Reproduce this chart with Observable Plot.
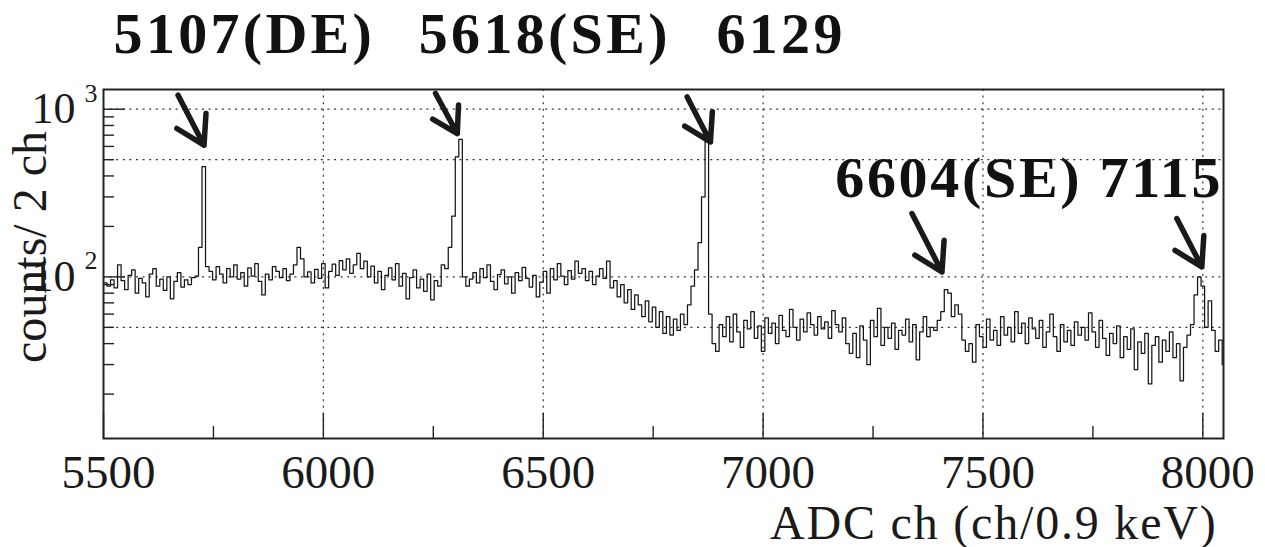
<!DOCTYPE html>
<html>
<head>
<meta charset="utf-8">
<script src="https://cdn.jsdelivr.net/npm/d3@7"></script>
<script src="https://cdn.jsdelivr.net/npm/@observablehq/plot@0.6"></script>
<style>
  html, body { margin: 0; padding: 0; background: #fff; }
  #chart svg { display: block; }
</style>
</head>
<body>
<div id="chart"></div>
<script>
// ---- Spectrum: counts per 8-ch bin starting at 5500 ----
const binStart = 5500;
const binWidth = 8;
const counts = [
  92, 88, 96, 86, 118, 95, 84, 102, 110, 80, 98, 92, 76, 104, 112, 88, 97, 83, 100, 74, 94, 106, 87, 96, 90, 99, 101,
  150, 455, 115,
  108, 96, 115, 104, 92, 112, 100, 118, 97, 106, 88, 113, 101, 120, 94, 78, 104, 96, 115, 108, 99, 112, 95, 104, 118, 150, 128, 100, 107, 92, 111, 98, 120, 86,
  108, 119, 102, 125, 110, 128, 105, 118, 138, 112, 124, 100, 116, 92, 108, 84, 102, 113, 96, 120, 88, 105, 74, 99, 110, 86, 97, 82, 104, 73, 95, 88, 118, 112,
  150, 230, 520, 660, 100,
  88, 97, 106, 92, 112, 99, 118, 94, 84, 103, 110, 91, 100, 80, 106, 95, 114, 98, 87, 102, 76, 93, 108, 80, 112, 96, 120, 101, 90, 109, 97, 124, 105, 112, 95, 108, 90, 101,
  112, 98, 124, 86, 95, 76, 90, 70, 84, 64, 78, 68, 58, 72, 54, 66, 50, 62, 46, 58, 45, 56, 48, 60, 52,
  68, 88, 110, 160, 300, 640, 60, 40,
  36, 52, 44, 58, 41, 60, 47, 38, 55, 49, 62, 43, 51, 36, 57, 46, 53, 40, 59, 48, 44, 64, 50, 42, 56, 47, 61, 52, 45, 58, 49, 54,
  43, 63, 52, 47, 57, 40, 35, 46, 33, 51, 42, 30, 55, 44, 65, 39, 50, 43, 53, 37, 48, 45, 56, 41, 52, 32, 47, 58, 44, 50, 48, 55,
  62, 84, 80, 58, 68, 60, 42, 36,
  40, 31, 52, 44, 38, 56, 42, 48, 39, 58, 45, 50, 41, 62, 46, 53, 40, 57, 49, 43, 55, 38, 47, 60, 44, 36, 52, 41, 48, 39, 54, 45,
  50, 42, 61, 47, 38, 55, 43, 34, 46, 40, 51, 33, 44, 37, 49, 28, 41, 35, 46, 23, 39, 44, 31, 42, 36, 47, 33, 40, 24, 38, 45,
  52, 78, 100, 88, 50, 72, 48, 36, 42, 30
];

// ---- Axes ----
const xDomain = [5500, 8047];
const yDomain = [10.87, 1311];
const xMajorTicks = [5500, 6000, 6500, 7000, 7500, 8000];
const xMinorTicks = [5750, 6250, 6750, 7250, 7750];
const xGridLines = [6000, 6500, 7000, 7500, 8000];
const yMajorTicks = [100, 1000];
const yMajorBase = ["10", "10"];
const yMajorExp = ["2", "3"];
const yMinorTicks = [20, 30, 40, 50, 60, 70, 80, 90, 200, 300, 400, 500, 600, 700, 800, 900];
const yGridLines = [50, 100, 500, 1000];
const xTitle = "ADC ch (ch/0.9 keV)";
const yTitle = "counts/ 2 ch";

// ---- Annotations ----
const topLabelText = ["5107(DE)", "5618(SE)", "6129"];
const topLabelX = [5523, 6217, 6894];
const topLabelY = [2158, 2158, 2158];
const peakLabelText = ["6604(SE) 7115"];
const peakLabelX = [7164];
const peakLabelY = [299];
const arrowX1 = [5627.7, 6211.8, 6785.5, 7297.0, 7899.1];
const arrowY1 = [1973, 2012, 1928, 389, 363];
const arrowX2 = [5728.6, 6304.5, 6880.2, 7406.8, 7997.7];
const arrowY2 = [610, 716, 638, 107, 114.7];

// ---- Build tables ----
const series = counts.map((c, i) => ({x: binStart + i * binWidth, y: c}));
series.push({x: binStart + counts.length * binWidth, y: counts[counts.length - 1]});
const topLabels = topLabelText.map((t, i) => ({t, x: topLabelX[i], y: topLabelY[i]}));
const peakLabels = peakLabelText.map((t, i) => ({t, x: peakLabelX[i], y: peakLabelY[i]}));
const arrows = arrowX1.map((x1, i) => ({x1, y1: arrowY1[i], x2: arrowX2[i], y2: arrowY2[i]}));

const W = 1265, H = 547;
const mL = 103, mR = 42, mT = 89, mB = 109;
const plotW = W - mL - mR, plotH = H - mT - mB;
const serif = "'Liberation Serif', 'Times New Roman', serif";

const chart = Plot.plot({
  width: W,
  height: H,
  marginLeft: mL,
  marginRight: mR,
  marginTop: mT,
  marginBottom: mB,
  style: {fontFamily: serif, background: "#fff", color: "#111"},
  x: {domain: xDomain, axis: null},
  y: {type: "log", domain: yDomain, axis: null},
  marks: [
    Plot.ruleX(xGridLines, {x: d => d, stroke: "#333", strokeWidth: 1.2, strokeDasharray: "2,4.6"}),
    Plot.ruleY(yGridLines, {y: d => d, stroke: "#333", strokeWidth: 1.2, strokeDasharray: "2,4.6"}),
    Plot.line(series, {x: "x", y: "y", curve: "step-after", stroke: "#151515", strokeWidth: 1.25, clip: true}),
    Plot.tickX(xMajorTicks, {x: d => d, insetTop: plotH - 25, stroke: "#222", strokeWidth: 1.4}),
    Plot.tickX(xMinorTicks, {x: d => d, insetTop: plotH - 12, stroke: "#222", strokeWidth: 1.4}),
    Plot.tickY(yMajorTicks, {y: d => d, insetRight: plotW - 22, stroke: "#222", strokeWidth: 1.4}),
    Plot.tickY(yMinorTicks, {y: d => d, insetRight: plotW - 11, stroke: "#222", strokeWidth: 1.4}),
    Plot.frame({stroke: "#222", strokeWidth: 2}),
    Plot.text(xMajorTicks, {x: d => d, frameAnchor: "bottom", text: d => String(d), lineAnchor: "bottom", dx: 5, dy: 49, fontSize: 47, fill: "#1a1a1a"}),
    Plot.text(yMajorTicks, {y: d => d, frameAnchor: "left", text: (d, i) => yMajorBase[i], textAnchor: "end", lineAnchor: "middle", dx: -28, fontSize: 44, fill: "#1a1a1a"}),
    Plot.text(yMajorTicks, {y: d => d, frameAnchor: "left", text: (d, i) => yMajorExp[i], textAnchor: "end", lineAnchor: "middle", dx: -6, dy: -16, fontSize: 26, fill: "#1a1a1a"}),
    Plot.text([xTitle], {frameAnchor: "bottom-right", text: d => d, textAnchor: "end", lineAnchor: "bottom", dx: -6, dy: 100, fontSize: 48, fill: "#1a1a1a", ariaDescription: "xtitle"}),
    Plot.text([yTitle], {frameAnchor: "left", text: d => d, rotate: -90, textAnchor: "middle", lineAnchor: "bottom", dx: -58, dy: -17, fontSize: 48, fill: "#1a1a1a"}),
    Plot.arrow(arrows, {x1: "x1", y1: "y1", x2: "x2", y2: "y2", stroke: "#1a1a1a", strokeWidth: 5.5, headLength: 8.7, headAngle: 62, insetStart: 40}),
    Plot.text(topLabels, {x: "x", y: "y", text: "t", textAnchor: "start", lineAnchor: "bottom", fontSize: 58, fontWeight: "bold", fill: "#111", ariaDescription: "toplabels"}),
    Plot.text(peakLabels, {x: "x", y: "y", text: "t", textAnchor: "start", lineAnchor: "bottom", fontSize: 58, fontWeight: "bold", fill: "#111", ariaDescription: "peaklabels"})
  ]
});

document.getElementById("chart").appendChild(chart);
const svgSel = d3.select(chart);
const spacing = {xtitle: "1.8px", toplabels: "3.3px", peaklabels: "2.7px"};
for (const [key, ls] of Object.entries(spacing)) {
  svgSel.selectAll(`[aria-description="${key}"]`).attr("letter-spacing", ls).selectAll("text").attr("letter-spacing", ls);
}
</script>
</body>
</html>
